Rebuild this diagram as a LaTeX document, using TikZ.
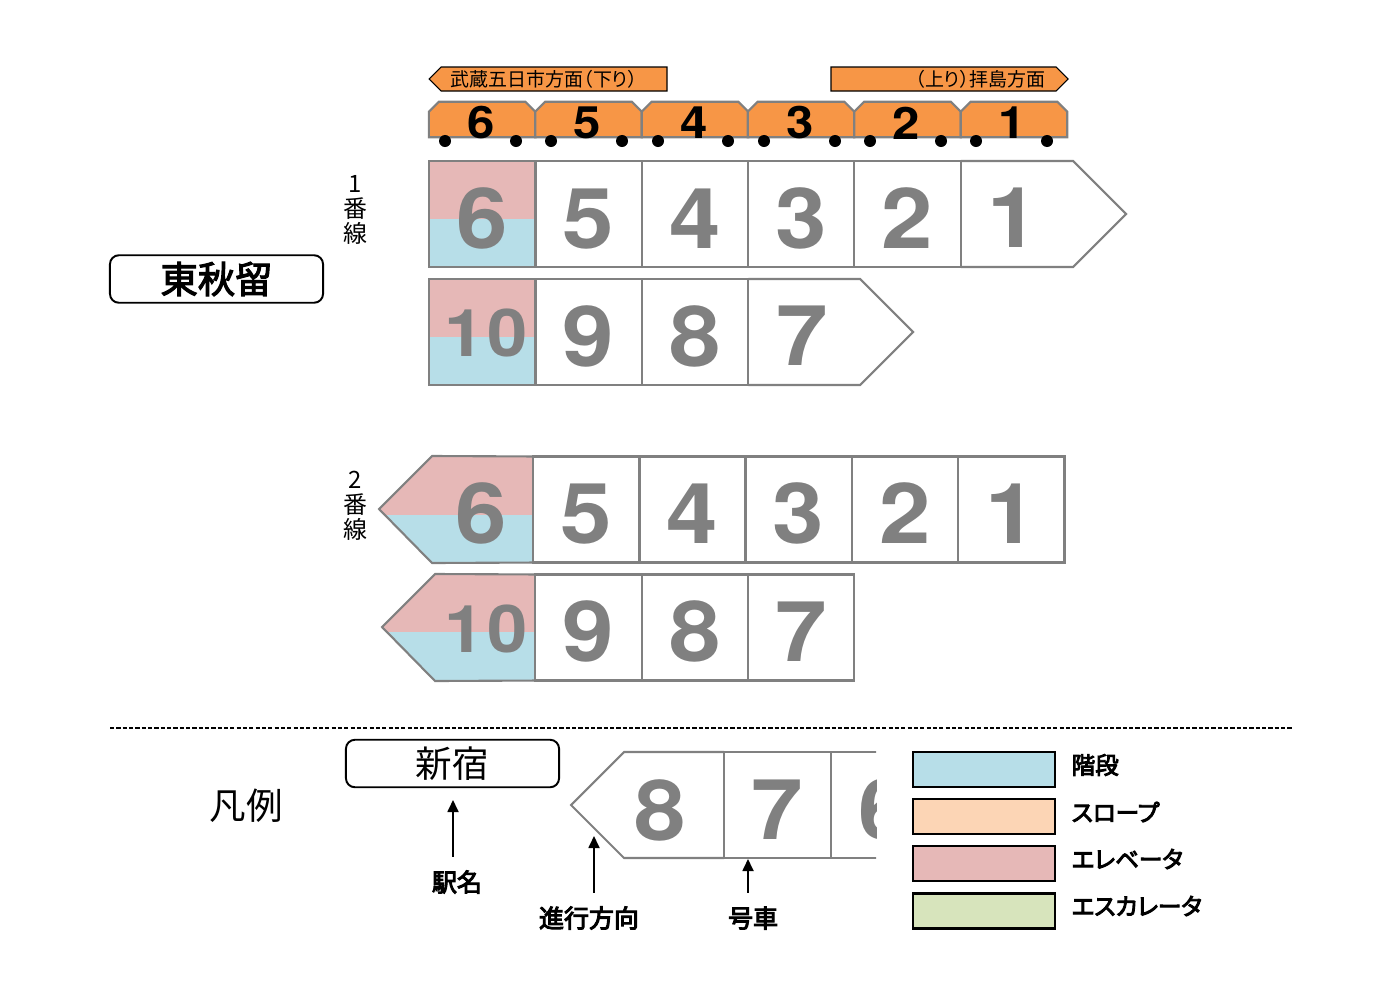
\documentclass[tikz,border=0pt]{standalone}
\usepackage{fontspec}
\setmainfont[RawFeature=+palt]{Noto Sans CJK JP}
\newfontfamily\digitfont[FakeStretch=1.1]{TeX Gyre Heros}
\newfontfamily\fullfont{Noto Sans CJK JP}
\newfontfamily\labelfont[FakeBold=4]{Noto Sans CJK JP}
\newfontfamily\kanafont[RawFeature=+palt,FakeBold=4]{Noto Sans CJK JP}
\newfontfamily\namefont[FakeBold=3]{Noto Sans CJK JP}
\usetikzlibrary{arrows.meta,shapes.misc}
\definecolor{car_orange}{HTML}{F79646}
\definecolor{car_line}{HTML}{808080}
\definecolor{elevator}{HTML}{E6B8B7}
\definecolor{stairs}{HTML}{B7DEE8}
\definecolor{slope}{HTML}{FCD5B5}
\definecolor{escalator}{HTML}{D7E4BC}
\begin{document}
\begin{tikzpicture}[x=0.01cm, y=-0.01cm]
        \tikzstyle{car_top}   = [shape = chamfered rectangle, chamfered rectangle corners={north west, north east}, chamfered rectangle xsep=0.05cm, chamfered rectangle ysep=0.05cm, draw = car_line, fill = car_orange, line width=0.6pt, inner sep=0pt, outer sep=0pt, text width=0.965cm, text height=0.255cm, text depth=0pt]
        \tikzstyle{car_num}   = [inner sep=0pt, font=\digitfont\bfseries\fontsize{12.7}{13}\selectfont]
        \tikzstyle{wheel}     = [shape = circle, fill = black, minimum size=0.12cm, inner sep=0pt]
        \tikzstyle{cell}      = [shape = rectangle, draw = car_line, line width=0.6pt, minimum width=1.065cm, minimum height=1.06cm, inner sep=0pt, outer sep=0pt, text = car_line, font=\digitfont\bfseries\fontsize{23.9}{24}\selectfont, text height=0.68cm, text depth=0pt]
        \tikzstyle{cell_num}  = [inner sep=0pt, text = car_line, font=\digitfont\bfseries\fontsize{23.9}{24}\selectfont]
        \tikzstyle{cell_wide} = [inner sep=0pt, text = car_line, font=\digitfont\bfseries\fontsize{18.7}{19}\selectfont]
        \tikzstyle{nose}      = [draw = car_line, line width=0.6pt, line join=miter]
        \tikzstyle{banner}    = [draw = black, fill = car_orange, line width=0.3pt]
        \tikzstyle{banner_t}  = [inner sep=0pt, font=\fontsize{5.4}{6}\selectfont]
        \tikzstyle{station}   = [shape = rectangle, rounded corners=0.09cm, draw = black, line width=0.55pt, minimum width=2.13cm, minimum height=0.475cm, inner sep=0pt, font=\fullfont\fontsize{10.4}{11}\selectfont]
        \tikzstyle{track}     = [inner sep=0pt, align=center, font=\fontsize{6.8}{7.1}\selectfont]
        \tikzstyle{swatch}    = [shape = rectangle, draw = black, line width=0.6pt, minimum width=1.42cm, minimum height=0.35cm, inner sep=0pt]
        \tikzstyle{swatch_t}  = [anchor=west, inner sep=0pt, font=\kanafont\fontsize{6.7}{7}\selectfont]
        \tikzstyle{legend_t}  = [inner sep=0pt, minimum height=0.49cm, font=\labelfont\fontsize{7.1}{7.5}\selectfont]

        \useasboundingbox (0,0) rectangle (1400,1000);

        \draw[banner] (429,79) -- (441,67) -- (667,67) -- (667,91) -- (441,91) -- cycle;
        \draw[banner] (831,67) -- (1056,67) -- (1068,79) -- (1056,91) -- (831,91) -- cycle;
        \node[banner_t, anchor=west] at (450,79) (dir_down) {武蔵五日市方面（下り）};
        \node[banner_t, anchor=east] at (1046,79) (dir_up) {（上り）拝島方面};

        \node[car_top] at (482.2,119.5) (t6) {};
        \node[car_top] at (588.5,119.5) (t5) {};
        \node[car_top] at (695.0,119.5) (t4) {};
        \node[car_top] at (801.0,119.5) (t3) {};
        \node[car_top] at (907.5,119.5) (t2) {};
        \node[car_top] at (1014.0,119.5) (t1) {};
        \node[car_num] at (481,123) (t6_n) {6};
        \node[car_num] at (587,123) (t5_n) {5};
        \node[car_num] at (694,123) (t4_n) {4};
        \node[car_num] at (800,123) (t3_n) {3};
        \node[car_num] at (906,123) (t2_n) {2};
        \node[car_num] at (1012,123) (t1_n) {1};

        \node[wheel] at (445,141) (w6_l) {};
        \node[wheel] at (516,141) (w6_r) {};
        \node[wheel] at (551,141) (w5_l) {};
        \node[wheel] at (622,141) (w5_r) {};
        \node[wheel] at (658,141) (w4_l) {};
        \node[wheel] at (728,141) (w4_r) {};
        \node[wheel] at (764,141) (w3_l) {};
        \node[wheel] at (835,141) (w3_r) {};
        \node[wheel] at (870,141) (w2_l) {};
        \node[wheel] at (941,141) (w2_r) {};
        \node[wheel] at (976,141) (w1_l) {};
        \node[wheel] at (1047,141) (w1_r) {};

        \fill[elevator] (429,161) rectangle (535,219);
        \fill[stairs] (429,219) rectangle (535,267);
        \fill[elevator] (429,279) rectangle (535,337);
        \fill[stairs] (429,337) rectangle (535,385);

        \node[cell] at (482.2,214) (a6) {6};
        \node[cell] at (588.5,214) (a5) {5};
        \node[cell] at (695.0,214) (a4) {4};
        \node[cell] at (801.0,214) (a3) {3};
        \node[cell] at (907.5,214) (a2) {2};
        \node[cell_num] at (1013,218) (a1) {1};
        \draw[nose] (a2.north east) -- (1073,161) -- (1126,214) -- (1073,267) -- (a2.south east);

        \node[cell] at (482.2,332) (b10) {};
        \node[cell_wide] at (486,333) (b10_t) {1\kern0.04em 0};
        \node[cell] at (588.5,332) (b9) {9};
        \node[cell] at (695.0,332) (b8) {8};
        \node[cell_num] at (802,336) (b7) {7};
        \draw[nose] (b8.north east) -- (860,279) -- (913,332) -- (860,385) -- (b8.south east);

        \fill[elevator] (432,456) -- (533,456) -- (533,515) -- (385,515) -- (379,509) -- cycle;
        \fill[stairs] (385,515) -- (533,515) -- (533,563) -- (432,563) -- cycle;
        \node[cell_num] at (481,513) (c6) {6};
        \node[cell] at (586.2,509.5) (c5) {5};
        \node[cell] at (692.5,509.5) (c4) {4};
        \node[cell] at (798.5,509.5) (c3) {3};
        \node[cell] at (905.0,509.5) (c2) {2};
        \node[cell] at (1011.2,509.5) (c1) {1};
        \draw[nose] (c5.north west) -- (432,456) -- (379,509) -- (432,563) -- (c5.south west);

        \fill[elevator] (435,574) -- (535,574) -- (535,632) -- (387,632) -- (382,627) -- cycle;
        \fill[stairs] (387,632) -- (535,632) -- (535,681) -- (435,681) -- cycle;
        \node[cell_wide] at (486,629) (d10) {1\kern0.04em 0};
        \node[cell] at (588.5,627.5) (d9) {9};
        \node[cell] at (695.0,627.5) (d8) {8};
        \node[cell] at (801.0,627.5) (d7) {7};
        \draw[nose] (d9.north west) -- (435,574) -- (382,627) -- (435,681) -- (d9.south west);

        \node[track] at (355,210) (track1) {1\\番\\線};
        \node[track] at (355,506) (track2) {2\\番\\線};

        \node[station, font=\namefont\fontsize{10.6}{11}\selectfont] at (216.5,279) (stn_name) {東秋留};

        \coordinate (rule_l) at (110,728);
        \coordinate (rule_r) at (1292,728);
        \draw[black, line width=0.3pt, dash pattern=on 1.2pt off 0.6pt] (rule_l) -- (rule_r);

        \node[inner sep=0pt, font=\fullfont\fontsize{10.4}{11}\selectfont] at (246,806) (legend_title) {凡例};
        \node[station] at (452.5,763.5) (stn_sample) {新宿};

        \begin{scope}
          \clip (560,745) rectangle (876,865);
          \node[cell] at (777.5,805) (e7) {7};
          \node[cell] at (884.0,805) (e6) {6};
          \node[cell_num] at (660,810) (e8) {8};
          \draw[nose] (e7.north west) -- (624,752) -- (571,805) -- (624,858) -- (e7.south west);
        \end{scope}

        \node[swatch, fill=stairs] at (984,769.5) (s_stairs) {};
        \node[swatch, fill=slope] at (984,816.5) (s_slope) {};
        \node[swatch, fill=elevator] at (984,863.5) (s_elev) {};
        \node[swatch, fill=escalator] at (984,911) (s_esc) {};
        \node[swatch_t] at (1071,765) (l_stairs) {階段};
        \node[swatch_t] at (1071,812) (l_slope) {スロープ};
        \node[swatch_t] at (1071,859) (l_elev) {エレベータ};
        \node[swatch_t] at (1071,906) (l_esc) {エスカレータ};

        \node[legend_t] at (457,882) (l_name) {駅名};
        \node[legend_t] at (589,918) (l_dir) {進行方向};
        \node[legend_t] at (753,918) (l_car) {号車};
        \coordinate (p_name) at (453,800);
        \coordinate (p_dir) at (594,836);
        \coordinate (p_car) at (748,859);

        \path[-{Triangle[width=0.11cm, length=0.12cm]}, line width=0.5pt]
          (l_name.north -| p_name) edge (p_name)
          (l_dir.north -| p_dir) edge (p_dir)
          (l_car.north -| p_car) edge (p_car)
        ;
      \end{tikzpicture}
\end{document}
